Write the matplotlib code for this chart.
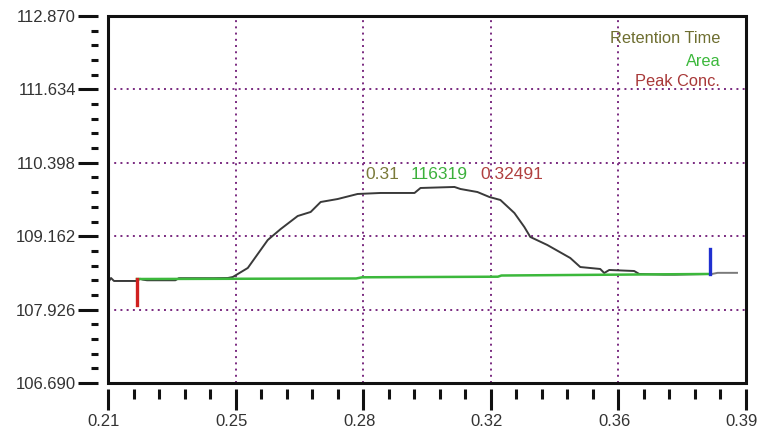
import matplotlib
matplotlib.use("Agg")
import matplotlib.pyplot as plt
from matplotlib.patches import Rectangle
import matplotlib.transforms as mtrans
import numpy as np

# ---- data ----
curve_x = [0.2100, 0.21085, 0.21169, 0.21817, 0.21900, 0.21986, 0.22100, 0.2290, 0.2300,
           0.2387, 0.2400, 0.24380, 0.24521, 0.24944, 0.25507, 0.25873, 0.26352, 0.26718,
           0.27000, 0.27479, 0.28042, 0.28690, 0.29648, 0.29817, 0.30775, 0.30944,
           0.31423, 0.31761, 0.32070, 0.32465, 0.32746, 0.32915, 0.33394, 0.34042,
           0.34324, 0.34887, 0.35000, 0.35141, 0.35845, 0.35986, 0.3669, 0.3700,
           0.3739, 0.37986]
curve_y = [108.379, 108.458, 108.408, 108.408, 108.445, 108.430, 108.420, 108.420, 108.455,
           108.455, 108.455, 108.458, 108.475, 108.627, 109.098, 109.283, 109.502, 109.570,
           109.738, 109.788, 109.873, 109.890, 109.890, 109.974, 109.991, 109.957,
           109.906, 109.822, 109.772, 109.553, 109.317, 109.149, 109.014, 108.795,
           108.643, 108.610, 108.542, 108.593, 108.576, 108.526, 108.515, 108.515,
           108.520, 108.526]
tail_x = [0.38042, 0.3820, 0.38746]
tail_y = [108.526, 108.545, 108.545]

base_x = [0.21817, 0.28, 0.2817, 0.32, 0.3210, 0.37986]
base_y = [108.441, 108.450, 108.470, 108.480, 108.500, 108.526]

start_mark_x = 0.21817
start_mark_y = [108.441, 108.000]
end_mark_x = 0.37986
end_mark_y = [108.526, 108.946]

x_ticks = np.linspace(0.21, 0.39, 6)
x_labels = ["0.21", "0.25", "0.28", "0.32", "0.36", "0.39"]
y_ticks = [106.690, 107.926, 109.162, 110.398, 111.634, 112.870]
y_labels = ["106.690", "107.926", "109.162", "110.398", "111.634", "112.870"]

peak_rt = "0.31"
peak_area = "116319"
peak_conc = "0.32491"
legend_labels = ["Retention Time", "Area", "Peak Conc."]

# ---- style ----
plt.rcParams['font.family'] = ['Liberation Sans', 'DejaVu Sans']
c_rt = "#6e6e30"
c_area = "#3cb83c"
c_conc = "#a83838"
grid_c = "#7a2a80"

fig = plt.figure(figsize=(7.67, 4.34), dpi=100)
ax = fig.add_axes([108/767, 51/434, 638/767, 367/434])
ax.set_xlim(0.21, 0.39)
ax.set_ylim(106.690, 112.870)

# grid (interior only)
for xv in x_ticks[1:-1]:
    ax.axvline(xv, color=grid_c, lw=1.4, ls=(0, (1, 2.2)), zorder=1)
for yv in y_ticks[1:-1]:
    ax.axhline(yv, color=grid_c, lw=1.4, ls=(0, (1, 2.2)), zorder=1)

ax.plot(curve_x, curve_y, color="#3a3a3a", lw=1.4, zorder=2)
ax.plot(tail_x, tail_y, color="#7a7a7a", lw=1.4, zorder=2)
ax.plot(base_x, base_y, color=c_area, lw=1.8, zorder=3)
ax.plot([start_mark_x, start_mark_x], start_mark_y, color="#d02020", lw=2.4, zorder=4)
ax.plot([end_mark_x, end_mark_x], end_mark_y, color="#2030d0", lw=2.4, zorder=4)

# peak annotation
ax.text(0.28268, 110.193, peak_rt, color="#7a7a3a", fontsize=12.5, va="center", ha="left")
ax.text(0.29535, 110.193, peak_area, color="#3cb03c", fontsize=12.5, va="center", ha="left")
ax.text(0.31507, 110.193, peak_conc, color="#b04040", fontsize=12.5, va="center", ha="left")

# legend texts
for lab, col, yy in zip(legend_labels, [c_rt, c_area, c_conc], [112.483, 112.112, 111.775]):
    ax.text(0.3827, yy, lab, color=col, fontsize=11.8, ha="right", va="center")

# axes frame & ticks
for s in ax.spines.values():
    s.set_visible(False)
ax.spines['left'].set_visible(True)
ax.spines['bottom'].set_visible(True)
ax.spines['left'].set_position(('outward', 7))
ax.spines['bottom'].set_position(('outward', 4))
ax.spines['left'].set_color('none')
ax.spines['bottom'].set_color('none')
ax.add_patch(Rectangle((0, 0), 1, 1, transform=ax.transAxes, fill=False,
                       lw=2.2, edgecolor="#111111", clip_on=False, zorder=5))

ax.set_xticks(x_ticks)
ax.set_xticklabels(x_labels)
ax.set_yticks(y_ticks)
ax.set_yticklabels(y_labels)
ax.set_xticks(np.linspace(0.21, 0.39, 26), minor=True)
ax.set_yticks(np.linspace(106.690, 112.870, 26), minor=True)
ax.tick_params(axis='x', which='major', length=15, width=2.2, color="#111111",
               pad=3.5, labelsize=12, labelcolor="#333333")
ax.tick_params(axis='x', which='minor', length=7, width=2.2, color="#111111")
ax.tick_params(axis='y', which='major', length=14.5, width=2.2, color="#111111",
               pad=1.5, labelsize=12, labelcolor="#333333")
ax.tick_params(axis='y', which='minor', length=5, width=2.2, color="#111111")

shift = mtrans.ScaledTranslation(-4/100, 0, fig.dpi_scale_trans)
for lbl in ax.get_xticklabels():
    lbl.set_transform(lbl.get_transform() + shift)

fig.savefig("out.png", dpi=100)
